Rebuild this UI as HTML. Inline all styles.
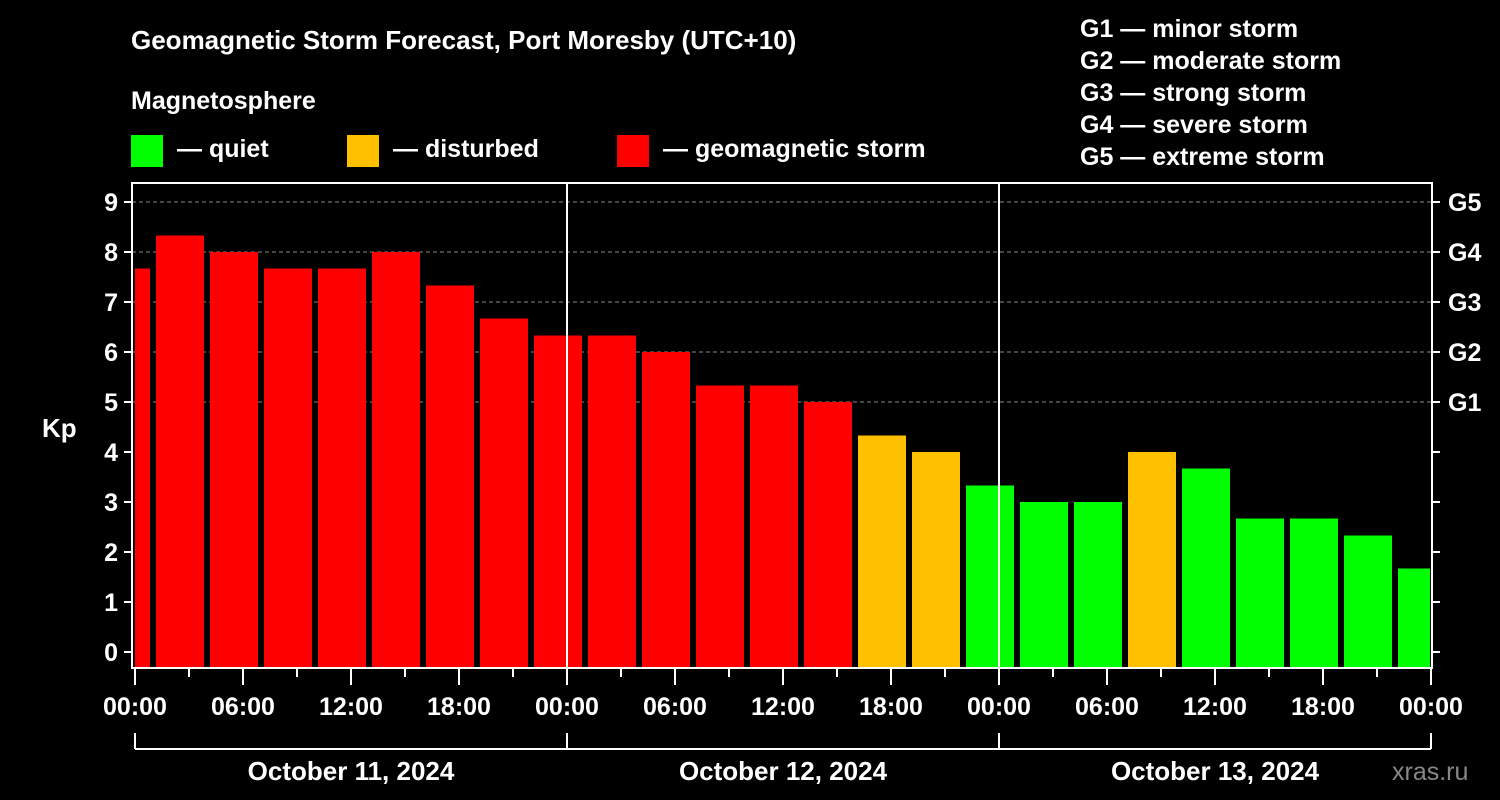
<!DOCTYPE html>
<html><head><meta charset="utf-8">
<style>
html,body{margin:0;padding:0;background:#000;}
svg{display:block;font-family:"Liberation Sans",sans-serif;font-weight:bold;}
</style></head>
<body>
<svg id="c" width="1500" height="800" viewBox="0 0 1500 800">
<rect width="1500" height="800" fill="#000"/>
<text x="131" y="49" fill="#fff" font-size="26">Geomagnetic Storm Forecast, Port Moresby (UTC+10)</text>
<text x="131" y="109" fill="#fff" font-size="25">Magnetosphere</text>
<g><rect x="131" y="135" width="32" height="32" fill="#00ff00"/><text x="177" y="157" fill="#fff" font-size="25">— quiet</text></g>
<g><rect x="347" y="135" width="32" height="32" fill="#ffc000"/><text x="393" y="157" fill="#fff" font-size="25">— disturbed</text></g>
<g><rect x="617" y="135" width="32" height="32" fill="#ff0000"/><text x="663" y="157" fill="#fff" font-size="25">— geomagnetic storm</text></g>
<g fill="#fff" font-size="25">
<text x="1080" y="37">G1 — minor storm</text>
<text x="1080" y="69">G2 — moderate storm</text>
<text x="1080" y="101">G3 — strong storm</text>
<text x="1080" y="133">G4 — severe storm</text>
<text x="1080" y="165">G5 — extreme storm</text>
</g>
<text x="42" y="437" fill="#fff" font-size="26">Kp</text>
<text x="1392" y="780" fill="#888" font-size="25" font-weight="normal">xras.ru</text>
<g id="plot"></g>
</svg>
<script>
const kpValues = [7.67,8.33,8.0,7.67,7.67,8.0,7.33,6.67,6.33,6.33,6.0,5.33,5.33,5.0,4.33,4.0,3.33,3.0,3.0,4.0,3.67,2.67,2.67,2.33,1.67];
const firstStartHour = -2;
const yTicks = [0,1,2,3,4,5,6,7,8,9];
const gLabels = ["G1","G2","G3","G4","G5"];
const hourLabels = ["00:00","06:00","12:00","18:00"];
const dayLabels = ["October 11, 2024","October 12, 2024","October 13, 2024"];

const NS="http://www.w3.org/2000/svg";
const g=document.getElementById('plot');
const L=132,R=1432,T=183,B=668,X0=135,PXH=18;
const xs=h=>X0+h*PXH;
const ys=k=>652-50*k;
function mk(t,a,p){const e=document.createElementNS(NS,t);for(const k in a)e.setAttribute(k,a[k]);(p||g).appendChild(e);return e;}
// grid
[5,6,7,8,9].forEach(k=>{const e=mk('line',{x1:L,x2:R,y1:ys(k),y2:ys(k),stroke:'#888','stroke-dasharray':'4,3','stroke-width':1});

});
// bars
kpValues.forEach((v,i)=>{
  const s=firstStartHour+3*i, e=s+3;
  let x1=Math.max(xs(s)+3,X0), x2=Math.min(xs(e)-3,R-2);
  const col=v>=5?'#ff0000':(v>=4?'#ffc000':'#00ff00');
  const r=mk('rect',{x:x1,y:ys(v),width:x2-x1,height:B-ys(v),fill:col});
  
  
});
// day lines
[1,2].forEach(d=>{const e=mk('line',{x1:xs(24*d),x2:xs(24*d),y1:T,y2:B,stroke:'#fff','stroke-width':2});

});
// frame
const f=mk('rect',{x:L,y:T,width:R-L,height:B-T,fill:'none',stroke:'#fff','stroke-width':2});


// y ticks
yTicks.forEach(k=>{
  mk('line',{x1:L-8,x2:L,y1:ys(k),y2:ys(k),stroke:'#fff','stroke-width':2});
  mk('line',{x1:R,x2:R+8,y1:ys(k),y2:ys(k),stroke:'#fff','stroke-width':2});
  const t=mk('text',{x:L-14,y:ys(k)+9,fill:'#fff','font-size':25,'text-anchor':'end'});t.textContent=k;
  
  
});
gLabels.forEach((s,i)=>{const t=mk('text',{x:R+16,y:ys(5+i)+9,fill:'#fff','font-size':25});t.textContent=s;

});
// x ticks
for(let h=0;h<=72;h+=3){
  const major=h%6===0;
  mk('line',{x1:xs(h),x2:xs(h),y1:B,y2:major?685:677,stroke:'#fff','stroke-width':2});
  if(major){const t=mk('text',{x:xs(h),y:715,fill:'#fff','font-size':25,'text-anchor':'middle'});t.textContent=hourLabels[(h/6)%4];
  
  }
}
// day bracket
mk('line',{x1:xs(0),x2:xs(72),y1:749,y2:749,stroke:'#fff','stroke-width':2});
for(let d=0;d<=3;d++)mk('line',{x1:xs(24*d),x2:xs(24*d),y1:733,y2:749,stroke:'#fff','stroke-width':2});
dayLabels.forEach((s,d)=>{const t=mk('text',{x:xs(24*d+12),y:780,fill:'#fff','font-size':26,'text-anchor':'middle'});t.textContent=s;

});
</script>
</body></html>
